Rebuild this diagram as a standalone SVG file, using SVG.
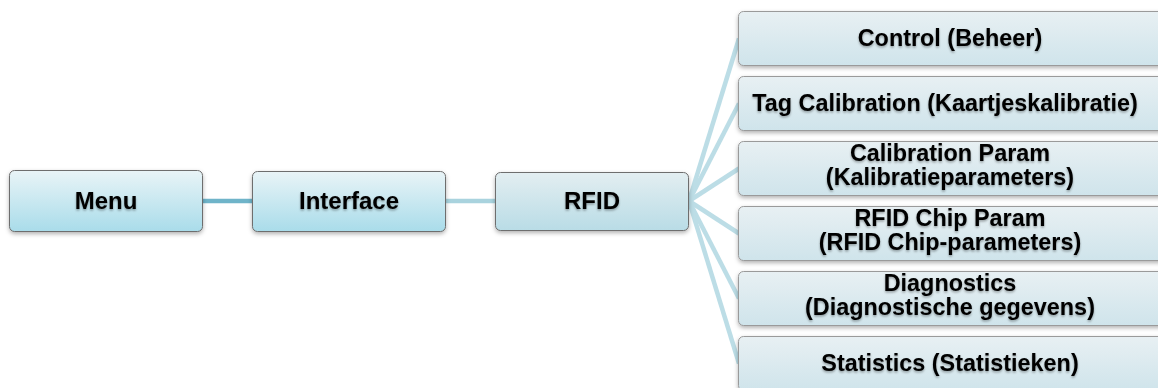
<svg xmlns="http://www.w3.org/2000/svg" width="1158" height="388" viewBox="0 0 1158 388">
<defs>
<linearGradient id="gL" x1="0" y1="0" x2="0" y2="1">
<stop offset="0" stop-color="#e9f4f7"/>
<stop offset="1" stop-color="#a9dcea"/>
</linearGradient>
<linearGradient id="gR" x1="0" y1="0" x2="0" y2="1">
<stop offset="0" stop-color="#e3eef1"/>
<stop offset="1" stop-color="#b9dce6"/>
</linearGradient>
<linearGradient id="gC" x1="0" y1="0" x2="0" y2="1">
<stop offset="0" stop-color="#e8f0f3"/>
<stop offset="1" stop-color="#cfe4eb"/>
</linearGradient>
<filter id="sh" x="-10%" y="-20%" width="120%" height="150%">
<feDropShadow dx="0" dy="2" stdDeviation="2" flood-color="#000" flood-opacity="0.3"/>
</filter>
<filter id="ts" x="-10%" y="-30%" width="120%" height="160%">
<feDropShadow dx="0" dy="1.5" stdDeviation="1.2" flood-color="#000" flood-opacity="0.35"/>
</filter>
</defs>
<style>
.lb{fill:url(#gL);stroke:#6e6e6e;stroke-width:1;filter:url(#sh)}
.rf{fill:url(#gR);stroke:#6e6e6e;stroke-width:1;filter:url(#sh)}
.cb{fill:url(#gC);stroke:#9a9a9a;stroke-width:1;filter:url(#sh)}
text{font-family:"Liberation Sans",Arial,sans-serif;font-weight:bold;fill:#000;text-anchor:middle;filter:url(#ts)}
.t1{font-size:24px}
.t2{font-size:23.4px}
.c{fill:none;stroke-width:4.5;stroke-linecap:butt}
</style>
<rect width="1158" height="388" fill="#fff"/>
<g id="connectors">
<line class="c" x1="203" y1="201" x2="252" y2="201" stroke="#6fb4c9"/>
<line class="c" x1="446" y1="201" x2="495" y2="201" stroke="#a9d3de"/>
<g stroke="#bcdde6">
<line class="c" x1="689" y1="201" x2="739" y2="38.5"/>
<line class="c" x1="689" y1="201" x2="739" y2="103.5"/>
<line class="c" x1="689" y1="201" x2="739" y2="168.5"/>
<line class="c" x1="689" y1="201" x2="739" y2="233.5"/>
<line class="c" x1="689" y1="201" x2="739" y2="298.5"/>
<line class="c" x1="689" y1="201" x2="739" y2="363.5"/>
</g>
</g>
<g id="menu">
<rect class="lb" x="9.5" y="170.5" width="193" height="61" rx="5"/>
<text class="t1" x="106" y="209">Menu</text>
</g>
<g id="interface">
<rect class="lb" x="252.5" y="171.5" width="193" height="60" rx="5"/>
<text class="t1" x="349" y="209">Interface</text>
</g>
<g id="rfid">
<rect class="rf" x="495.5" y="172.5" width="193" height="58" rx="5"/>
<text class="t1" x="592" y="209">RFID</text>
</g>
<g id="control">
<rect class="cb" x="738.5" y="11.5" width="430" height="54" rx="5"/>
<text class="t2" x="950" y="46">Control (Beheer)</text>
</g>
<g id="tagcal">
<rect class="cb" x="738.5" y="76.5" width="430" height="54" rx="5"/>
<text class="t2" x="945" y="111">Tag Calibration (Kaartjeskalibratie)</text>
</g>
<g id="calparam">
<rect class="cb" x="738.5" y="141.5" width="430" height="54" rx="5"/>
<text class="t2" x="950" y="161">Calibration Param</text>
<text class="t2" x="950" y="185">(Kalibratieparameters)</text>
</g>
<g id="chipparam">
<rect class="cb" x="738.5" y="206.5" width="430" height="54" rx="5"/>
<text class="t2" x="950" y="226">RFID Chip Param</text>
<text class="t2" x="950" y="250">(RFID Chip-parameters)</text>
</g>
<g id="diagnostics">
<rect class="cb" x="738.5" y="271.5" width="430" height="54" rx="5"/>
<text class="t2" x="950" y="291">Diagnostics</text>
<text class="t2" x="950" y="315">(Diagnostische gegevens)</text>
</g>
<g id="statistics">
<rect class="cb" x="738.5" y="336.5" width="430" height="54" rx="5"/>
<text class="t2" x="950" y="371">Statistics (Statistieken)</text>
</g>
</svg>
